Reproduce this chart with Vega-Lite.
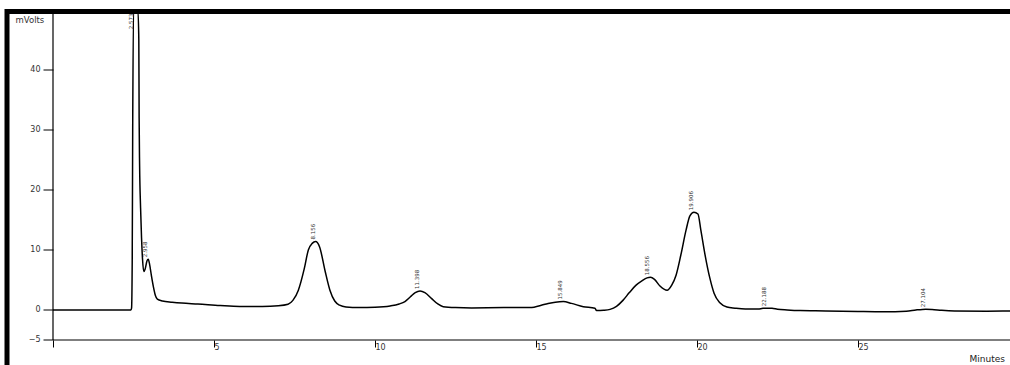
{
  "$schema": "https://vega.github.io/schema/vega-lite/v6.json",
  "autosize": "none",
  "width": 1040,
  "height": 370,
  "padding": {"left": 7, "top": 11.5, "right": 0, "bottom": 0},
  "background": "white",
  "config": {
    "view": {"stroke": "black", "strokeWidth": 5},
    "font": "DejaVu Sans"
  },
  "datasets": {
    "trace": [
      {"t": 0, "mv": 0}, {"t": 1.0, "mv": 0}, {"t": 2.0, "mv": 0}, {"t": 2.42, "mv": 0},
      {"t": 2.44, "mv": 0.3}, {"t": 2.46, "mv": 8}, {"t": 2.475, "mv": 30}, {"t": 2.5, "mv": 60},
      {"t": 2.54, "mv": 90}, {"t": 2.573, "mv": 96}, {"t": 2.6, "mv": 92}, {"t": 2.64, "mv": 70},
      {"t": 2.665, "mv": 45}, {"t": 2.675, "mv": 32}, {"t": 2.69, "mv": 24}, {"t": 2.72, "mv": 17},
      {"t": 2.75, "mv": 12}, {"t": 2.78, "mv": 8.5}, {"t": 2.82, "mv": 6.4}, {"t": 2.86, "mv": 6.8},
      {"t": 2.92, "mv": 8.2}, {"t": 2.958, "mv": 8.45}, {"t": 3.0, "mv": 7.6}, {"t": 3.06, "mv": 5.6},
      {"t": 3.12, "mv": 3.8}, {"t": 3.18, "mv": 2.4}, {"t": 3.24, "mv": 1.8}, {"t": 3.4, "mv": 1.5},
      {"t": 3.7, "mv": 1.3}, {"t": 4.0, "mv": 1.15}, {"t": 4.5, "mv": 1.0}, {"t": 5.19, "mv": 0.75},
      {"t": 5.8, "mv": 0.6}, {"t": 6.5, "mv": 0.6}, {"t": 7.0, "mv": 0.7}, {"t": 7.3, "mv": 0.95},
      {"t": 7.45, "mv": 1.6}, {"t": 7.62, "mv": 3.3}, {"t": 7.8, "mv": 6.8}, {"t": 7.93, "mv": 10.0},
      {"t": 8.05, "mv": 11.1}, {"t": 8.156, "mv": 11.4}, {"t": 8.28, "mv": 10.5}, {"t": 8.45, "mv": 6.5},
      {"t": 8.6, "mv": 3.3}, {"t": 8.75, "mv": 1.5}, {"t": 8.9, "mv": 0.8}, {"t": 9.1, "mv": 0.5},
      {"t": 9.5, "mv": 0.4}, {"t": 10.0, "mv": 0.45}, {"t": 10.47, "mv": 0.67}, {"t": 10.75, "mv": 1.0},
      {"t": 10.93, "mv": 1.4}, {"t": 11.1, "mv": 2.2}, {"t": 11.25, "mv": 2.9}, {"t": 11.398, "mv": 3.17},
      {"t": 11.55, "mv": 2.9}, {"t": 11.76, "mv": 1.9}, {"t": 11.95, "mv": 1.0}, {"t": 12.12, "mv": 0.55},
      {"t": 12.5, "mv": 0.4}, {"t": 13.0, "mv": 0.35}, {"t": 14.0, "mv": 0.4}, {"t": 14.81, "mv": 0.4},
      {"t": 15.28, "mv": 0.95}, {"t": 15.6, "mv": 1.3}, {"t": 15.849, "mv": 1.4}, {"t": 16.1, "mv": 1.1},
      {"t": 16.47, "mv": 0.55}, {"t": 16.83, "mv": 0.28}, {"t": 16.88, "mv": -0.1}, {"t": 17.1, "mv": -0.05},
      {"t": 17.3, "mv": 0.1}, {"t": 17.5, "mv": 0.6}, {"t": 17.7, "mv": 1.6}, {"t": 17.9, "mv": 2.9},
      {"t": 18.1, "mv": 4.1}, {"t": 18.3, "mv": 4.9}, {"t": 18.45, "mv": 5.35}, {"t": 18.556, "mv": 5.45},
      {"t": 18.68, "mv": 5.1}, {"t": 18.85, "mv": 4.0}, {"t": 19.07, "mv": 3.3}, {"t": 19.22, "mv": 4.2},
      {"t": 19.35, "mv": 5.8},
      {"t": 19.5, "mv": 9.2}, {"t": 19.66, "mv": 13.3}, {"t": 19.78, "mv": 15.7}, {"t": 19.906, "mv": 16.3},
      {"t": 20.03, "mv": 16.0}, {"t": 20.12, "mv": 13.3}, {"t": 20.25, "mv": 9.2}, {"t": 20.4, "mv": 5.3},
      {"t": 20.53, "mv": 2.8}, {"t": 20.71, "mv": 1.2}, {"t": 20.93, "mv": 0.5}, {"t": 21.18, "mv": 0.3},
      {"t": 21.5, "mv": 0.15}, {"t": 21.9, "mv": 0.15}, {"t": 22.05, "mv": 0.28}, {"t": 22.188, "mv": 0.3},
      {"t": 22.33, "mv": 0.28}, {"t": 22.5, "mv": 0.12}, {"t": 22.8, "mv": 0.0}, {"t": 23.2, "mv": -0.1},
      {"t": 24.0, "mv": -0.15}, {"t": 25.0, "mv": -0.25}, {"t": 25.8, "mv": -0.3}, {"t": 26.5, "mv": -0.2},
      {"t": 26.8, "mv": 0.0}, {"t": 27.0, "mv": 0.1}, {"t": 27.104, "mv": 0.12}, {"t": 27.3, "mv": 0.08},
      {"t": 27.6, "mv": -0.05}, {"t": 28.0, "mv": -0.15}, {"t": 29.0, "mv": -0.2}, {"t": 30.0, "mv": -0.15},
      {"t": 30.9, "mv": -0.15}
    ],
    "peaks": [
      {"rt": 2.573, "mv": 96},
      {"rt": 2.958, "mv": 8.45},
      {"rt": 8.156, "mv": 11.4},
      {"rt": 11.398, "mv": 3.17},
      {"rt": 15.849, "mv": 1.4},
      {"rt": 18.556, "mv": 5.45},
      {"rt": 19.906, "mv": 16.3},
      {"rt": 22.188, "mv": 0.3},
      {"rt": 27.104, "mv": 0.12}
    ],
    "frame": [{"t0": 0, "t1": 30.87, "v0": -5, "v1": 49.75}]
  },
  "layer": [
    {
      "data": {"name": "trace"},
      "mark": {"type": "line", "color": "black", "strokeWidth": 1.5, "clip": true, "interpolate": "monotone"},
      "encoding": {
        "x": {
          "field": "t",
          "type": "quantitative",
          "scale": {"domain": [-1.4286, 30.87], "nice": false, "zero": false},
          "axis": {
            "title": "Minutes",
            "titleFont": "DejaVu Sans",
            "titleFontSize": 9,
            "titleFontWeight": "normal",
            "titleColor": "#222",
            "titleAlign": "left",
            "titleBaseline": "middle",
            "titleX": 962,
            "titleY": 18,
            "offset": -41.5,
            "domain": false,
            "grid": false,
            "values": [0, 5, 10, 15, 20, 25],
            "tickSize": 7,
            "tickColor": "black",
            "tickWidth": 1,
            "labelExpr": "datum.value == 0 ? '' : datum.label",
            "labelAlign": "left",
            "labelBaseline": "middle",
            "labelDx": 1,
            "labelPadding": 0,
            "labelFont": "DejaVu Sans",
            "labelFontSize": 8,
            "labelColor": "#333",
            "labelOverlap": false,
            "labelFlush": false
          }
        },
        "y": {
          "field": "mv",
          "type": "quantitative",
          "scale": {"domain": [-11.92, 49.75], "nice": false, "zero": false, "clamp": true},
          "axis": {
            "title": "mVolts",
            "titleFont": "DejaVu Sans",
            "titleFontSize": 8.5,
            "titleFontWeight": "normal",
            "titleColor": "#333",
            "titleAngle": 0,
            "titleAlign": "left",
            "titleBaseline": "middle",
            "titleX": -38,
            "titleY": 7.5,
            "offset": -46,
            "domain": false,
            "grid": false,
            "values": [-5, 0, 10, 20, 30, 40],
            "tickSize": 10,
            "tickColor": "black",
            "tickWidth": 1,
            "labelPadding": 3,
            "labelFont": "DejaVu Sans",
            "labelFontSize": 8,
            "labelColor": "#333",
            "labelOverlap": false,
            "labelFlush": false
          }
        }
      }
    },
    {
      "data": {"name": "frame"},
      "mark": {"type": "rule", "color": "black", "strokeWidth": 1.2},
      "encoding": {
        "x": {"field": "t0", "type": "quantitative"},
        "x2": {"field": "t1"},
        "y": {"field": "v0", "type": "quantitative"}
      }
    },
    {
      "data": {"name": "frame"},
      "mark": {"type": "rule", "color": "black", "strokeWidth": 1.2},
      "encoding": {
        "x": {"field": "t0", "type": "quantitative"},
        "y": {"field": "v0", "type": "quantitative"},
        "y2": {"field": "v1"}
      }
    },
    {
      "data": {"name": "peaks"},
      "transform": [{"filter": "datum.rt > 2.7"}],
      "mark": {"type": "text", "angle": 270, "align": "left", "baseline": "middle", "dx": 2, "dy": -3, "fontSize": 5.5, "font": "DejaVu Sans", "color": "#333"},
      "encoding": {
        "x": {"field": "rt", "type": "quantitative"},
        "y": {"field": "mv", "type": "quantitative"},
        "text": {"field": "rt", "type": "quantitative", "format": ".3f"}
      }
    },
    {
      "data": {"name": "peaks"},
      "transform": [{"filter": "datum.rt <= 2.7"}],
      "mark": {"type": "text", "angle": 270, "align": "right", "baseline": "middle", "dx": -2, "dy": -5, "fontSize": 5.5, "font": "DejaVu Sans", "color": "#333"},
      "encoding": {
        "x": {"field": "rt", "type": "quantitative"},
        "y": {"field": "mv", "type": "quantitative"},
        "text": {"field": "rt", "type": "quantitative", "format": ".3f"}
      }
    }
  ]
}
